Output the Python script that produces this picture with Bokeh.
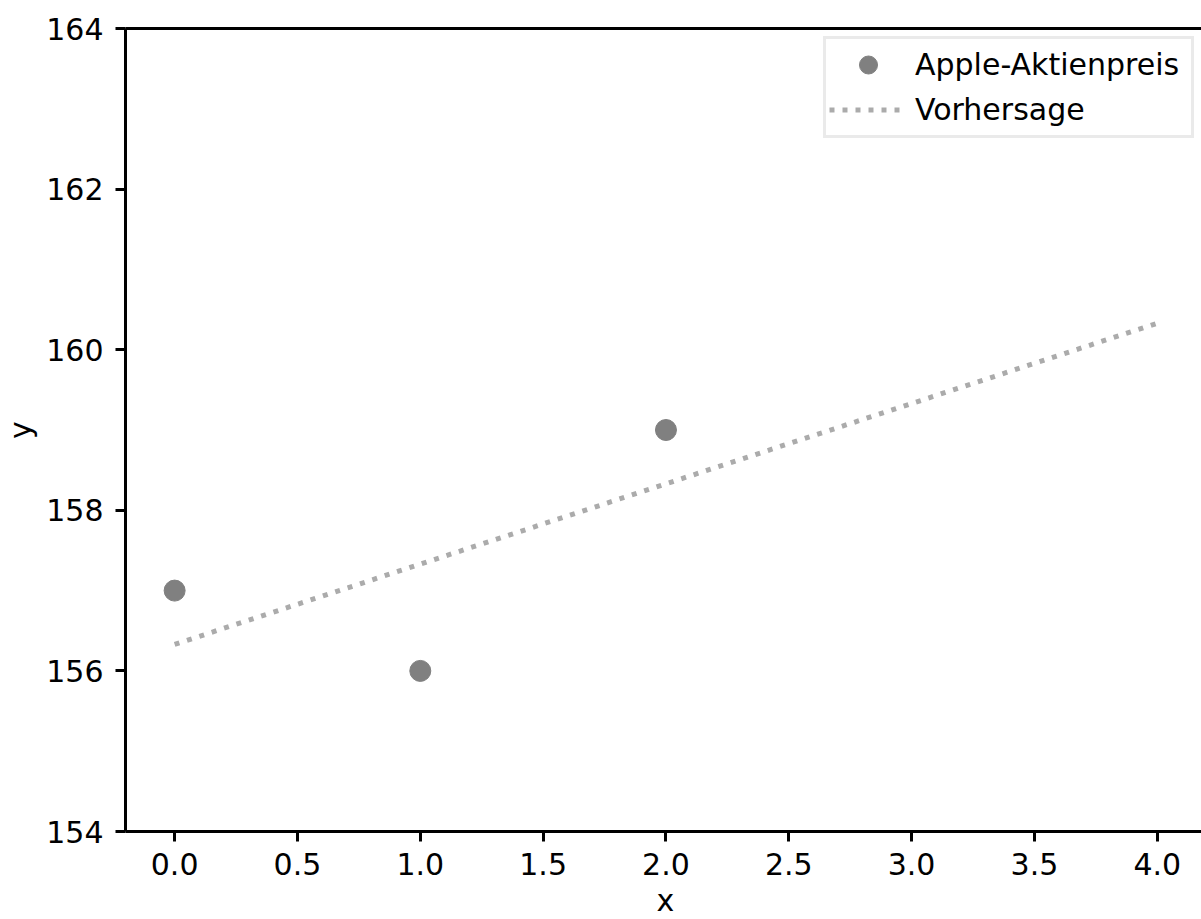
from bokeh.plotting import figure
from bokeh.models import (LinearAxis, FixedTicker, PrintfTickFormatter, Legend,
                          LegendItem, Range1d, Label)
from bokeh.embed import file_html
from bokeh.resources import INLINE

# Data
x_obs = [0, 1, 2]
price = [157, 156, 159]
x_pred = [0, 1, 2, 3, 4]
pred = [156.33, 157.33, 158.33, 159.33, 160.33]
x_ticks = [0.0, 0.5, 1.0, 1.5, 2.0, 2.5, 3.0, 3.5, 4.0]
y_ticks = [154, 156, 158, 160, 162, 164]

FONT = "DejaVu Sans"
FS = "30px"

p = figure(width=1201, height=919,
           x_range=Range1d(-0.2, 4.18), y_range=Range1d(154, 164),
           output_backend="svg", toolbar_location=None,
           min_border_left=125, min_border_right=0,
           min_border_top=28, min_border_bottom=88)
p.grid.visible = False
p.outline_line_color = None
p.background_fill_color = "white"
p.border_fill_color = "white"

r_line = p.line(x_pred, pred, line_color="#ababab", line_width=5, line_dash="5 8")
r_pts = p.scatter(x_obs, price, size=21, fill_color="#808080", line_color="#808080")

for ax in (p.xaxis[0], p.yaxis[0]):
    ax.axis_line_width = 3
    ax.axis_line_color = "black"
    ax.major_tick_line_width = 3
    ax.major_tick_line_color = "black"
    ax.major_tick_out = 10
    ax.major_tick_in = 0
    ax.minor_tick_line_color = None
    ax.major_label_text_font = FONT
    ax.major_label_text_font_size = FS
    ax.major_label_text_color = "black"
    ax.axis_label_text_font = FONT
    ax.axis_label_text_font_size = FS
    ax.axis_label_text_font_style = "normal"
    ax.axis_label_text_color = "black"

p.xaxis[0].ticker = FixedTicker(ticks=x_ticks)
p.xaxis[0].formatter = PrintfTickFormatter(format="%.1f")
p.xaxis[0].major_label_standoff = 11

p.yaxis[0].ticker = FixedTicker(ticks=y_ticks)
p.yaxis[0].formatter = PrintfTickFormatter(format="%d")
p.yaxis[0].axis_label = "y"
p.yaxis[0].major_label_standoff = 12
p.yaxis[0].axis_label_standoff = 5

# x axis title placed in the panel below the frame
p.add_layout(Label(x=540, y=12, x_units="screen", y_units="screen", text="x",
                   text_align="center", text_baseline="alphabetic",
                   text_font=FONT, text_font_size=FS, text_color="black"), "below")

top = LinearAxis(ticker=FixedTicker(ticks=[]), major_label_text_font_size="0px",
                 major_tick_out=0, major_tick_in=0, minor_tick_line_color=None,
                 axis_line_width=3, axis_line_color="black")
p.add_layout(top, "above")

legend = Legend(items=[LegendItem(label="Apple-Aktienpreis", renderers=[r_pts]),
                       LegendItem(label="Vorhersage", renderers=[r_line])],
                location=(698, 693), margin=0, padding=3,
                glyph_width=78, glyph_height=45, label_height=37,
                label_width=273, label_standoff=8, spacing=0,
                label_text_font=FONT, label_text_font_size=FS,
                label_text_color="black",
                border_line_color="#d6d6d6", border_line_width=3,
                background_fill_color="white", background_fill_alpha=1.0)
p.add_layout(legend)

open("out.html", "w").write(file_html(p, INLINE))
